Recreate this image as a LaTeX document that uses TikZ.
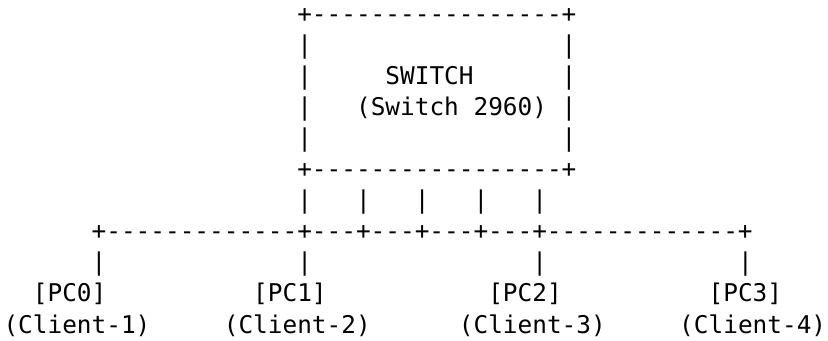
\documentclass[tikz,border=0pt]{standalone}
\usepackage{fontspec}
\setmonofont{DejaVu Sans Mono}
\tikzset{
  asc/.style={anchor=base west, inner sep=0pt, outer sep=0pt, text=black,
    font=\ttfamily\fontsize{24.4bp}{24.4bp}\selectfont}
}
\newcommand\asc[4]{\node[asc] (#1) at ({3.5+14.69*#2},{317.5-31.05*#3}) {#4};}
\begin{document}
\begin{tikzpicture}[x=1bp,y=1bp]
\useasboundingbox (0,0) rectangle (828,340);
% switch box
\asc{topb}{20}{0}{+-----------------+}
\asc{l1}{20}{1}{|}\asc{r1}{38}{1}{|}
\asc{l2}{20}{2}{|}\asc{sw}{26}{2}{SWITCH}\asc{r2}{38}{2}{|}
\asc{l3}{20}{3}{|}\asc{swm}{24}{3}{(Switch 2960)}\asc{r3}{38}{3}{|}
\asc{l4}{20}{4}{|}\asc{r4}{38}{4}{|}
\asc{botb}{20}{5}{+-----------------+}
% ports
\asc{p1}{20}{6}{|}\asc{p2}{24}{6}{|}\asc{p3}{28}{6}{|}\asc{p4}{32}{6}{|}\asc{p5}{36}{6}{|}
% bus
\asc{bus}{6}{7}{+-------------+---+---+---+---+-------------+}
% drops
\asc{d0}{6}{8}{|}\asc{d1}{20}{8}{|}\asc{d2}{36}{8}{|}\asc{d3}{50}{8}{|}
% PCs
\asc{pc0}{2}{9}{[PC0]}\asc{pc1}{17}{9}{[PC1]}\asc{pc2}{33}{9}{[PC2]}\asc{pc3}{48}{9}{[PC3]}
\asc{c1}{0}{10}{(Client-1)}\asc{c2}{15}{10}{(Client-2)}\asc{c3}{31}{10}{(Client-3)}\asc{c4}{46}{10}{(Client-4)}
\end{tikzpicture}
\end{document}
